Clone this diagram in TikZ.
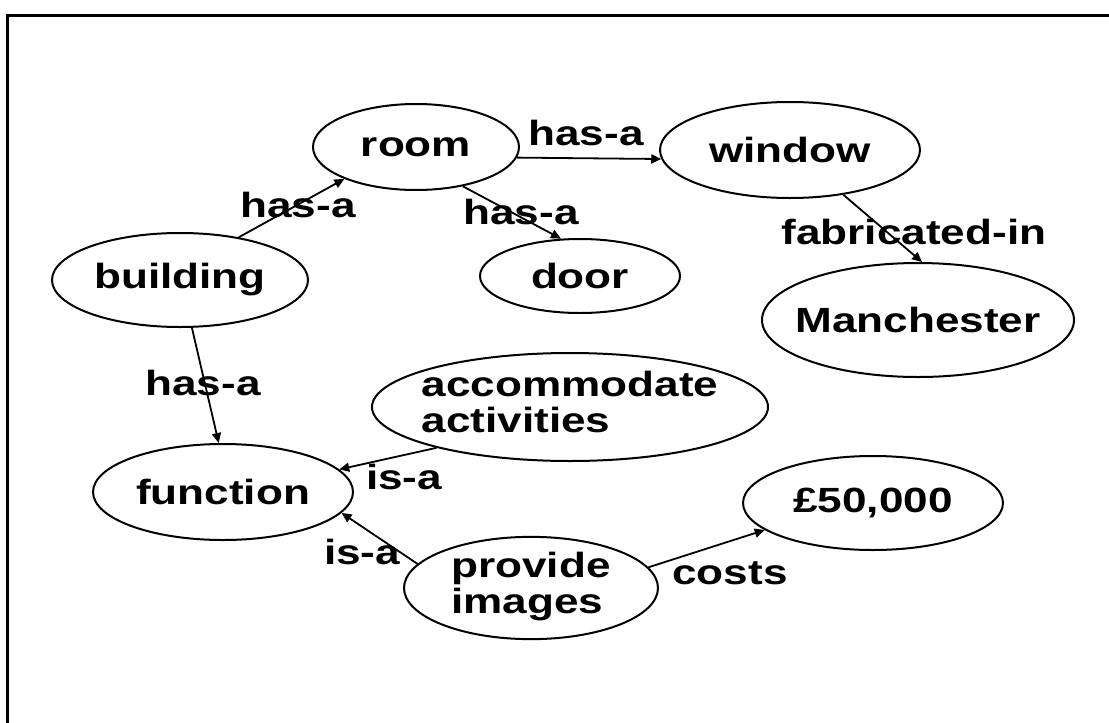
\documentclass[tikz,border=0pt]{standalone}
\usepackage{fontspec}
\setmainfont{Liberation Sans}[FakeStretch=1.26]
\usetikzlibrary{arrows.meta,shapes.geometric}

% zero-width text box, so each ellipse keeps exactly its given size
\newcommand{\zw}[1]{\makebox[0pt][c]{#1}}
\newcommand{\twoline}[2]{\zw{\begin{tabular}{@{}l@{}}#1\\#2\end{tabular}}}

\begin{document}
\begin{tikzpicture}[x=0.5pt,y=-0.5pt,
  font=\fontsize{17.5}{18}\selectfont\bfseries,
  concept/.style={draw, ellipse, line width=1pt, inner sep=0pt},
  rel/.style={-{Triangle[length=5pt,width=4.5pt]}, line width=0.9pt},
  lbl/.style={inner sep=0pt}]

\useasboundingbox (0,0) rectangle (1109,723);

% frame (top and left edges)
\draw[line width=1.5pt] (7,723) -- (7,15) -- (1109,15);

% concepts
\node[concept, minimum width=103pt, minimum height=43pt] (room)       at (416,147) {\zw{room}};
\node[concept, minimum width=130pt, minimum height=48pt] (window)     at (790,150) {\zw{window}};
\node[concept, minimum width=100pt, minimum height=37pt] (door)       at (580,276) {\zw{door}};
\node[concept, minimum width=128pt, minimum height=47pt] (building)   at (180,280) {\zw{building}};
\node[concept, minimum width=156pt, minimum height=57pt] (manchester) at (918,320) {\zw{Manchester}};
\node[concept, minimum width=198pt, minimum height=54pt] (accom)      at (570,407) {\twoline{accommodate}{activities}};
\node[concept, minimum width=130pt, minimum height=48pt] (function)   at (223,492) {\zw{function}};
\node[concept, minimum width=130pt, minimum height=47pt] (cost)       at (873,503) {\zw{£50,000}};
\node[concept, minimum width=127pt, minimum height=47pt] (provide)    at (531,588) {\twoline{provide}{images}};

% relations
\draw[rel] (building.36.6) -- (room.204.5);
\draw[rel] (room.-6.6)     -- (window.184.3);
\draw[rel] (room.-40.3)    -- (door.117.1);
\draw[rel] (window.-40.3)  -- (manchester.86);
\draw[rel] (building.-76)  -- (function.95.8);
\draw[rel] (accom.197.1)   -- (function.11);
\draw[rel] (provide.168.5) -- (function.-10.4);
\draw[rel] (provide.10.2)  -- (cost.194.5);

% relation labels
\node[lbl] (l1) at (298,205) {has-a};
\node[lbl] (l2) at (586,133) {has-a};
\node[lbl] (l3) at (521,212) {has-a};
\node[lbl] (l4) at (914,232) {fabricated-in};
\node[lbl] (l5) at (203,383) {has-a};
\node[lbl] (l6) at (404,477) {is-a};
\node[lbl] (l7) at (362,552) {is-a};
\node[lbl] (l8) at (730,573) {costs};
\end{tikzpicture}
\end{document}
